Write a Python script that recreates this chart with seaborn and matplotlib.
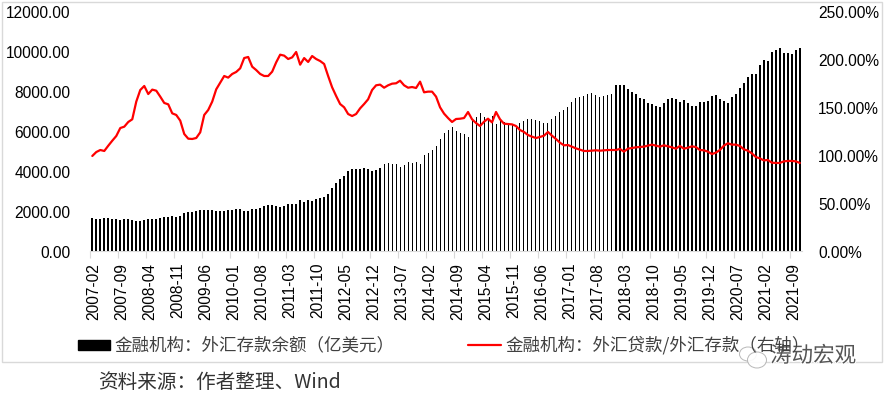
import pandas as pd
import seaborn as sns
import matplotlib.pyplot as plt
from matplotlib.lines import Line2D
from matplotlib.patches import Patch, Rectangle, Ellipse
from matplotlib.transforms import ScaledTranslation
import matplotlib.patheffects as pe

# monthly, 2007-02 to 2021-11
months = pd.period_range('2007-02', periods=178, freq='M').strftime('%Y-%m').tolist()

deposits = [1650, 1600, 1600, 1650, 1650, 1600, 1600, 1550, 1600, 1600,
            1550, 1500, 1500, 1550, 1600, 1600, 1600, 1650, 1700, 1700,
            1750, 1700, 1750, 1900, 1950, 1950, 2000, 2050, 2050, 2050,
            2050, 2000, 2000, 2000, 2050, 2050, 2100, 2100, 2000, 2000,
            2100, 2100, 2150, 2250, 2300, 2300, 2250, 2200, 2250, 2350,
            2350, 2350, 2550, 2450, 2550, 2500, 2600, 2650, 2700, 2850,
            3130, 3400, 3600, 3750, 4000, 4100, 4100, 4100, 4130, 4100,
            4000, 4050, 4150, 4350, 4400, 4370, 4350, 4200, 4300, 4450,
            4420, 4450, 4350, 4800, 4900, 5050, 5250, 5600, 5880, 6050,
            6200, 6000, 5900, 5850, 5700, 6500, 6700, 6900, 6700, 6550,
            6750, 6350, 6600, 6450, 6350, 6350, 6250, 6400, 6500, 6600,
            6600, 6550, 6500, 6400, 6400, 6600, 6750, 6950, 7050, 7200,
            7450, 7650, 7700, 7750, 7850, 7900, 7800, 7700, 7750, 7800,
            7850, 8300, 8300, 8300, 8100, 7950, 7850, 7650, 7600, 7400,
            7350, 7250, 7200, 7400, 7600, 7650, 7600, 7450, 7550, 7400,
            7250, 7250, 7450, 7450, 7500, 7750, 7800, 7600, 7500, 7400,
            7700, 7850, 8150, 8400, 8700, 8850, 8850, 9300, 9550, 9500,
            9950, 10050, 10150, 9900, 9900, 9850, 10050, 10150]

ratio = [99.0, 103.1, 105.2, 104.2, 109.7, 114.9, 119.8, 128.1, 129.5, 134.4,
         137.2, 155.6, 167.7, 171.9, 163.5, 168.1, 167.0, 160.8, 154.2, 152.8,
         143.4, 141.7, 135.8, 121.9, 117.0, 116.7, 117.7, 123.6, 141.7, 146.9,
         155.6, 168.4, 175.3, 182.3, 180.6, 184.4, 186.5, 190.3, 201.0, 202.1,
         192.0, 188.5, 184.4, 182.3, 182.3, 186.8, 196.5, 204.5, 203.5, 200.0,
         201.7, 207.3, 194.1, 201.0, 196.9, 203.1, 200.0, 197.9, 194.8, 182.3,
         170.5, 161.5, 153.1, 149.7, 142.7, 140.6, 142.7, 148.6, 153.1, 158.0,
         167.7, 172.6, 173.3, 170.1, 172.6, 174.3, 174.7, 177.4, 172.6, 170.1,
         170.8, 169.8, 176.4, 165.3, 166.0, 166.0, 160.8, 149.7, 143.1, 138.5,
         134.4, 137.5, 137.8, 138.5, 144.8, 137.2, 133.3, 130.2, 134.7, 137.8,
         134.0, 144.8, 137.2, 132.6, 132.3, 131.9, 130.2, 126.0, 124.0, 120.8,
         119.1, 117.7, 118.8, 120.1, 124.0, 120.1, 116.7, 112.8, 110.1, 110.4,
         108.7, 106.9, 105.6, 104.2, 104.2, 104.5, 104.9, 104.5, 104.9, 105.2,
         105.2, 105.2, 106.3, 103.5, 106.6, 107.3, 108.0, 108.3, 108.7, 109.7,
         110.8, 109.7, 108.7, 110.1, 109.0, 108.0, 106.6, 109.4, 106.6, 107.6,
         109.0, 108.3, 105.2, 104.9, 103.5, 101.0, 102.4, 105.2, 109.7, 112.2,
         110.8, 110.8, 109.4, 105.9, 104.5, 101.7, 97.9, 96.5, 94.4, 94.8,
         92.0, 91.7, 91.7, 93.4, 93.8, 93.8, 93.4, 91.7]

left_ticks = [0, 2000, 4000, 6000, 8000, 10000, 12000]
right_ticks = [0, 50, 100, 150, 200, 250]
bar_label = '金融机构：外汇存款余额（亿美元）'
line_label = '金融机构：外汇贷款/外汇存款（右轴）'

W, H = 884, 394
sns.set_theme(style='white')
plt.rcParams['font.family'] = ['Liberation Sans', 'Noto Sans CJK SC', 'DejaVu Sans']

df = pd.DataFrame({'month': months, 'deposits': deposits, 'ratio': ratio})

fig = plt.figure(figsize=(W / 100, H / 100), dpi=100, facecolor='white')
# axes box in pixels: category 0 centred near x=92, zero line at y=251
ax = fig.add_axes([90.3 / W, 1 - 251 / H, 711.5 / W, 240 / H])

sns.barplot(data=df, x='month', y='deposits', color='black', saturation=1, width=0.5,
            linewidth=0, ax=ax)
for i, bar in enumerate(ax.patches):
    # the bars look hairline thin in the middle stretch of the original
    if 73 <= i <= 130:
        bar.set_width(0.25)
        bar.set_x(i - 0.125)
ax.set_xlim(-0.5, 177.5)
ax.set_ylim(0, 12000)
ax.set_yticks(left_ticks)
ax.set_yticklabels([f'{v:.2f}' for v in left_ticks], fontsize=11.2, color='black')
ax.tick_params(axis='y', length=0, pad=14.5)

pos = list(range(0, 178, 7))
ax.set_xticks(pos)
ax.set_xticklabels([months[p] for p in pos], rotation=90, fontsize=11.2, color='black')
ax.set_xticks([p - 0.5 for p in pos], minor=True)
ax.tick_params(axis='x', which='major', length=0, pad=8.5)
ax.tick_params(axis='x', which='minor', length=5, width=0.8, color='#d9d9d9', bottom=True)
ax.set_xlabel('')
ax.set_ylabel('')
for s in ['top', 'left', 'right']:
    ax.spines[s].set_visible(False)
ax.spines['bottom'].set_color('#d9d9d9')
ax.spines['bottom'].set_linewidth(0.8)

ax2 = ax.twinx()
ax2.patch.set_visible(False)
sns.lineplot(data=df, x='month', y='ratio', color='#ff0000', linewidth=1.6, sort=False,
             ax=ax2)
ax2.set_ylim(0, 250)
ax2.set_yticks(right_ticks)
ax2.set_yticklabels([f'{v:.2f}%' for v in right_ticks], fontsize=11.2, color='black')
ax2.tick_params(axis='y', length=0, pad=11.7)
ax2.set_ylabel('')
for s in ax2.spines.values():
    s.set_visible(False)

# nudge tick labels a pixel or so, Excel centres them a bit differently
down = ScaledTranslation(0, -1.5 / 100, fig.dpi_scale_trans)
across = ScaledTranslation(1.5 / 100, 0, fig.dpi_scale_trans)
for lab in ax.get_yticklabels() + ax2.get_yticklabels():
    lab.set_transform(lab.get_transform() + down)
for lab in ax.get_xticklabels():
    lab.set_transform(lab.get_transform() + across)

# light frame round the chart
fig.add_artist(Rectangle((1.5 / W, 1 - 362 / H), 880 / W, 360 / H, transform=fig.transFigure,
                         fill=False, edgecolor='#d9d9d9', linewidth=1))

handles = [Patch(color='black', label=bar_label),
           Line2D([0], [0], color='#ff0000', linewidth=1.6, label=line_label)]
fig.legend(handles=handles, loc='center left', bbox_to_anchor=(78 / W, 1 - 345.5 / H), ncol=2,
           frameon=False, borderpad=0, borderaxespad=0, handlelength=1.85, handleheight=0.5,
           handletextpad=0.25, columnspacing=4.2, labelcolor='#404040',
           prop={'family': ['Noto Sans CJK SC', 'DejaVu Sans'], 'size': 12.6})

fig.text(98 / W, 1 - 383 / H, '资料来源：作者整理、Wind', fontsize=14.1, color='#333333',
         va='center', family=['Noto Sans CJK SC', 'DejaVu Sans'])

# WeChat style watermark, bottom right
for cx, cy, rw, rh in [(748, 354, 17, 14), (757, 360, 19, 16)]:
    fig.add_artist(Ellipse((cx / W, 1 - cy / H), rw / W, rh / H, transform=fig.transFigure,
                           facecolor='white', edgecolor='#b0b0b0', linewidth=0.7, alpha=0.9))
fig.text(770 / W, 1 - 356 / H, '涛动宏观', fontsize=15.5, color='#555555', va='center',
         family=['Noto Sans CJK SC', 'DejaVu Sans'],
         path_effects=[pe.withStroke(linewidth=1.5, foreground='white')])

fig.savefig('out.png', dpi=100, facecolor='white')
